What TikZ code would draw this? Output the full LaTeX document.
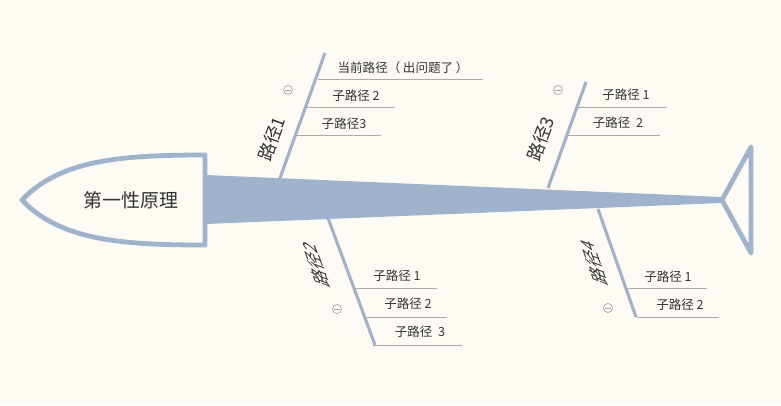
\documentclass[tikz,border=0pt]{standalone}
\usepackage{fontspec}
\newfontfamily\cjk{Noto Sans CJK SC}
\definecolor{bg}{HTML}{FEFBF4}
\definecolor{bone}{HTML}{9FB3CC}
\definecolor{rib}{HTML}{A2B1C7}
\definecolor{subline}{HTML}{ABABAB}
\definecolor{txt}{HTML}{333333}
\definecolor{icn}{HTML}{A8A8A8}
\begin{document}
\begin{tikzpicture}[x=0.75pt,y=-0.75pt,
  subtext/.style={font=\cjk\fontsize{9.4}{11}\selectfont, text=txt, inner sep=0pt},
  labtext/.style={font=\cjk\fontsize{13.4}{15}\selectfont, text=txt, inner sep=0pt},
  headtext/.style={font=\cjk\fontsize{14.2}{16}\selectfont, text=txt, inner sep=0pt},
  upper/.style={rotate=70},
  lower/.style={cm={-0.342,0.940,-1.03,0.375,(0,0)}},
  ribline/.style={draw=rib, line width=2.3pt},
  subln/.style={draw=subline, line width=0.7pt},
  icon/.style={circle, draw=icn, line width=0.5pt, minimum size=6.8pt, inner sep=0pt},
  outline/.style={draw=bone, line width=3.6pt, line join=round}
]
\useasboundingbox (0,0) rectangle (781,405);
\fill[bg] (0,0) rectangle (781,405);

% spine
\fill[bone] (205,175) -- (722,197) -- (722,203) -- (205,224) -- cycle;
% head
\draw[outline, fill=bg] (22,200) .. controls (60,160) and (120,155) .. (205,155)
  -- (205,245) .. controls (120,245) and (60,240) .. (22,200) -- cycle;
\node[headtext] (head) at (131,200) {第一性原理};
% tail
\draw[outline] (722,200) -- (751,147) -- (751,253) -- cycle;

% ---- branch 1
\coordinate (b1a) at (280,178);
\coordinate (b1b) at (325,53);
\draw[ribline] (b1a) -- (b1b);
\node[labtext, upper] (lab1) at (272,139) {路径1};
\node[icon] (i1) at (288,90) {};
\draw[icn, line width=0.5pt] ([xshift=-1.9pt]i1.center) -- ([xshift=1.9pt]i1.center);
\coordinate (l11a) at (318,79); \coordinate (l11b) at (483,79);
\coordinate (l12a) at (307,107); \coordinate (l12b) at (395,107);
\coordinate (l13a) at (297,135); \coordinate (l13b) at (381,135);
\draw[subln] (l11a) -- (l11b);
\draw[subln] (l12a) -- (l12b);
\draw[subln] (l13a) -- (l13b);
\node[subtext] (s11) at (403,68) {当前路径（\kern2pt 出问题了\kern2pt ）};
\node[subtext] (s12) at (356,96) {子路径 2};
\node[subtext] (s13) at (344,124) {子路径3};

% ---- branch 3
\coordinate (b3a) at (548,188);
\coordinate (b3b) at (586,82);
\draw[ribline] (b3a) -- (b3b);
\node[labtext, upper] (lab3) at (541,139) {路径3};
\node[icon] (i3) at (558,90) {};
\draw[icn, line width=0.5pt] ([xshift=-1.9pt]i3.center) -- ([xshift=1.9pt]i3.center);
\coordinate (l31a) at (578,107); \coordinate (l31b) at (667,107);
\coordinate (l32a) at (568,135); \coordinate (l32b) at (660,135);
\draw[subln] (l31a) -- (l31b);
\draw[subln] (l32a) -- (l32b);
\node[subtext] (s31) at (626,95) {子路径 1};
\node[subtext] (s32) at (618,123) {子路径~~2};

% ---- branch 2
\coordinate (b2a) at (328,218);
\coordinate (b2b) at (375,345);
\draw[ribline] (b2a) -- (b2b);
\node[labtext, lower] (lab2) at (316,264) {路径2};
\node[icon] (i2) at (337,309) {};
\draw[icn, line width=0.5pt] ([xshift=-1.9pt]i2.center) -- ([xshift=1.9pt]i2.center);
\coordinate (l21a) at (355,288); \coordinate (l21b) at (437,288);
\coordinate (l22a) at (363,317); \coordinate (l22b) at (447,317);
\coordinate (l23a) at (373,345); \coordinate (l23b) at (462,345);
\draw[subln] (l21a) -- (l21b);
\draw[subln] (l22a) -- (l22b);
\draw[subln] (l23a) -- (l23b);
\node[subtext] (s21) at (397,276) {子路径 1};
\node[subtext] (s22) at (408,304) {子路径 2};
\node[subtext] (s23) at (420,332) {子路径~~3};

% ---- branch 4
\coordinate (b4a) at (598,209);
\coordinate (b4b) at (636,317);
\draw[ribline] (b4a) -- (b4b);
\node[labtext, lower] (lab4) at (594,262) {路径4};
\node[icon] (i4) at (608,308) {};
\draw[icn, line width=0.5pt] ([xshift=-1.9pt]i4.center) -- ([xshift=1.9pt]i4.center);
\coordinate (l41a) at (628,288); \coordinate (l41b) at (707,288);
\coordinate (l42a) at (637,317); \coordinate (l42b) at (719,317);
\draw[subln] (l41a) -- (l41b);
\draw[subln] (l42a) -- (l42b);
\node[subtext] (s41) at (668,277) {子路径 1};
\node[subtext] (s42) at (680,305) {子路径 2};
\end{tikzpicture}
\end{document}
